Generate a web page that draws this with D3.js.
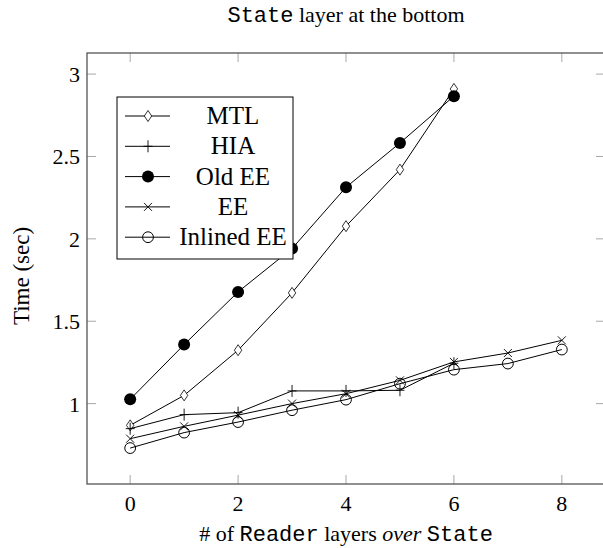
<!DOCTYPE html>
<html>
<head>
<meta charset="utf-8">
<script src="https://cdn.jsdelivr.net/npm/d3@7"></script>
<style>
  body { margin: 0; background: #fff; }
  text { font-family: "Liberation Serif", "Times New Roman", serif; fill: #000; }
  .mono { font-family: "Liberation Mono", "DejaVu Sans Mono", monospace; }
</style>
</head>
<body>
<div id="chart"></div>
<script>
// x values (# of Reader layers)
var layers = [0, 1, 2, 3, 4, 5, 6, 7, 8];

// series values (seconds)
var mtl = [0.868, 1.05, 1.324, 1.672, 2.077, 2.42, 2.91];
var hia = [0.848, 0.933, 0.945, 1.077, 1.077, 1.081, 1.245];
var oldEE = [1.026, 1.358, 1.678, 1.941, 2.313, 2.582, 2.866];
var ee = [0.787, 0.862, 0.93, 1.0, 1.06, 1.141, 1.253, 1.307, 1.384];
var inlinedEE = [0.73, 0.824, 0.888, 0.96, 1.024, 1.121, 1.206, 1.243, 1.328];

var xTicks = [0, 2, 4, 6, 8];
var yTicks = [1, 1.5, 2, 2.5, 3];

var series = [
    { name: "MTL", values: mtl, mark: "diamond" },
    { name: "HIA", values: hia, mark: "plus" },
    { name: "Old EE", values: oldEE, mark: "dot" },
    { name: "EE", values: ee, mark: "cross" },
    { name: "Inlined EE", values: inlinedEE, mark: "circle" }
];

(function () {
    var width = 603, height = 548;
    var plotL = 87, plotR = 605, plotT = 53, plotB = 484;

    var svg = d3.select("#chart").append("svg")
        .attr("width", width)
        .attr("height", height);

    // scales (pgfplots style enlarged limits)
    var x = d3.scaleLinear().domain([-0.8, 8.8]).range([plotL, plotR]);
    var y = d3.scaleLinear().domain([0.512, 3.128]).range([plotB, plotT]);

    // ticks on all four sides, pointing inward
    var tickLen = 9;
    var ticks = svg.append("g").attr("stroke", "#a8a8a8").attr("stroke-width", 1);
    xTicks.forEach(function (t) {
        ticks.append("line").attr("x1", x(t)).attr("x2", x(t)).attr("y1", plotB).attr("y2", plotB - tickLen);
        ticks.append("line").attr("x1", x(t)).attr("x2", x(t)).attr("y1", plotT).attr("y2", plotT + tickLen);
    });
    yTicks.forEach(function (t) {
        ticks.append("line").attr("x1", plotL).attr("x2", plotL + tickLen).attr("y1", y(t)).attr("y2", y(t));
        ticks.append("line").attr("x1", plotR).attr("x2", plotR - tickLen).attr("y1", y(t)).attr("y2", y(t));
    });

    // axis box
    svg.append("rect")
        .attr("x", plotL).attr("y", plotT)
        .attr("width", plotR - plotL).attr("height", plotB - plotT)
        .attr("fill", "none")
        .attr("stroke", "#555")
        .attr("stroke-width", 1.3);

    // tick labels
    svg.append("g").selectAll("text")
        .data(xTicks).enter().append("text")
        .attr("x", d => x(d))
        .attr("y", plotB + 27)
        .attr("text-anchor", "middle")
        .style("font-size", "22px")
        .text(d => d);

    svg.append("g").selectAll("text")
        .data(yTicks).enter().append("text")
        .attr("x", plotL - 7)
        .attr("y", d => y(d) + 8)
        .attr("text-anchor", "end")
        .style("font-size", "22px")
        .text(d => d);

    // title
    var title = svg.append("text")
        .attr("x", (plotL + plotR) / 2)
        .attr("y", 22)
        .attr("text-anchor", "middle")
        .style("font-size", "22px");
    title.append("tspan").attr("class", "mono").text("State");
    title.append("tspan").text(" layer at the bottom");

    // x label
    var xlab = svg.append("text")
        .attr("x", (plotL + plotR) / 2)
        .attr("y", 541)
        .attr("text-anchor", "middle")
        .style("font-size", "22px");
    xlab.append("tspan").text("# of ");
    xlab.append("tspan").attr("class", "mono").text("Reader");
    xlab.append("tspan").text(" layers ");
    xlab.append("tspan").style("font-style", "italic").text("over");
    xlab.append("tspan").text(" ");
    xlab.append("tspan").attr("class", "mono").text("State");

    // y label
    svg.append("text")
        .attr("transform", "translate(29,276) rotate(-90)")
        .attr("text-anchor", "middle")
        .style("font-size", "23px")
        .text("Time (sec)");

    // marker drawing
    function drawMark(g, kind) {
        if (kind == "diamond") {
            g.append("path").attr("d", "M0,-5.5L3.7,0L0,5.5L-3.7,0Z")
                .attr("fill", "#fff").attr("stroke", "#000").attr("stroke-width", 0.8);
        } else if (kind == "plus") {
            g.append("path").attr("d", "M0,-6V6M-4.5,0H4.5")
                .attr("fill", "none").attr("stroke", "#000").attr("stroke-width", 0.9);
        } else if (kind == "dot") {
            g.append("circle").attr("r", 6).attr("fill", "#000");
        } else if (kind == "cross") {
            g.append("path").attr("d", "M-4,-4L4,4M-4,4L4,-4")
                .attr("fill", "none").attr("stroke", "#000").attr("stroke-width", 0.9);
        } else if (kind == "circle") {
            g.append("circle").attr("r", 5.4)
                .attr("fill", "none").attr("stroke", "#000").attr("stroke-width", 1);
        }
    }

    var line = d3.line()
        .x((d, i) => x(layers[i]))
        .y(d => y(d));

    // series lines and marks
    series.forEach(function (s) {
        var g = svg.append("g");
        g.append("path")
            .attr("d", line(s.values))
            .attr("fill", "none")
            .attr("stroke", "#000")
            .attr("stroke-width", 1);
        s.values.forEach(function (v, i) {
            var m = g.append("g").attr("transform", "translate(" + x(layers[i]) + "," + y(v) + ")");
            drawMark(m, s.mark);
        });
    });

    // legend
    var lx = 117, ly = 97, lw = 176, lh = 162;
    var legend = svg.append("g");
    legend.append("rect")
        .attr("x", lx).attr("y", ly)
        .attr("width", lw).attr("height", lh)
        .attr("fill", "#fff")
        .attr("stroke", "#000")
        .attr("stroke-width", 1);

    series.forEach(function (s, i) {
        var cy = ly + 19 + i * 30.3;
        legend.append("line")
            .attr("x1", lx + 8).attr("x2", lx + 53)
            .attr("y1", cy).attr("y2", cy)
            .attr("stroke", "#000").attr("stroke-width", 1);
        var m = legend.append("g").attr("transform", "translate(" + (lx + 31) + "," + cy + ")");
        drawMark(m, s.mark);
        legend.append("text")
            .attr("x", lx + 116)
            .attr("y", cy + 8)
            .attr("text-anchor", "middle")
            .style("font-size", "25px")
            .text(s.name);
    });
})();
</script>
</body>
</html>
